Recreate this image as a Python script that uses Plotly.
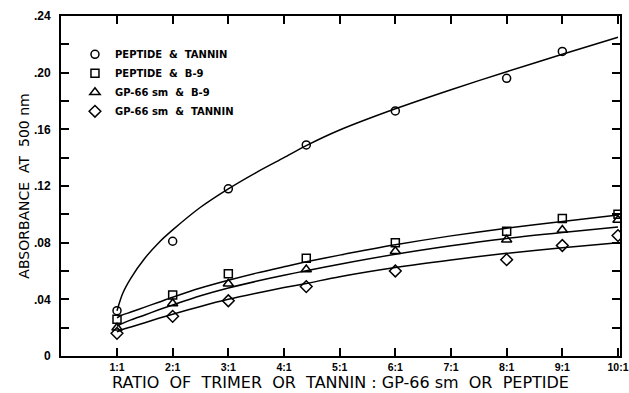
import plotly.graph_objects as go

# measured points
x_pts = [1, 2, 3, 4.4, 6, 8, 9, 10]
pep_tannin = [0.032, 0.081, 0.118, 0.149, 0.173, 0.196, 0.215, None]
pep_b9 = [0.026, 0.043, 0.058, 0.069, 0.080, 0.088, 0.097, 0.100]
gp_b9 = [0.020, 0.037, 0.051, 0.061, 0.074, 0.082, 0.089, 0.096]
gp_tannin = [0.016, 0.028, 0.039, 0.049, 0.060, 0.068, 0.078, 0.085]

# fitted curves
x_fit = [1, 1.1, 1.25, 1.5, 1.75, 2, 2.5, 3, 3.5, 4, 4.4, 5, 6, 7, 8, 9, 10]
fit_pep_tannin = [0.032, 0.044, 0.055, 0.069, 0.080, 0.089, 0.105, 0.118, 0.1295, 0.140,
                  0.1485, 0.1595, 0.1745, 0.188, 0.2007, 0.213, 0.225]
fit_pep_b9 = [0.027, 0.029, 0.031, 0.0345, 0.038, 0.0415, 0.048, 0.0535, 0.0585, 0.063,
              0.0665, 0.0712, 0.0785, 0.0848, 0.0902, 0.095, 0.0995]
fit_gp_b9 = [0.021, 0.023, 0.0255, 0.029, 0.0326, 0.036, 0.0425, 0.048, 0.0527, 0.057,
             0.0602, 0.0648, 0.0718, 0.0778, 0.083, 0.0872, 0.091]
fit_gp_tannin = [0.017, 0.0187, 0.0205, 0.0235, 0.0266, 0.0295, 0.035, 0.040, 0.0443, 0.0483,
                 0.0512, 0.056, 0.0625, 0.0678, 0.0725, 0.0765, 0.080]

x_tickvals = [1, 2, 3, 4, 5, 6, 7, 8, 9, 10]
x_ticktext = ["1:1", "2:1", "3:1", "4:1", "5:1", "6:1", "7:1", "8:1", "9:1", "10:1"]
y_tickvals = [0, 0.04, 0.08, 0.12, 0.16, 0.20, 0.24]
y_ticktext = ["0", ".04", ".08", ".12", ".16", ".20", ".24"]

names = ["PEPTIDE  &  TANNIN", "PEPTIDE  &  B-9", "GP-66 sm  &  B-9", "GP-66 sm  &  TANNIN"]
symbols = ["circle-open", "square-open", "triangle-up-open", "diamond-open"]
sizes = [8, 8, 9, 9]

fig = go.Figure()
for fy in [fit_pep_tannin, fit_pep_b9, fit_gp_b9, fit_gp_tannin]:
    fig.add_trace(go.Scatter(x=x_fit, y=fy, mode="lines", line=dict(color="black", width=1.5, shape="spline", smoothing=0.8),
                             showlegend=False, hoverinfo="skip"))
for yv, nm, sym, sz in zip([pep_tannin, pep_b9, gp_b9, gp_tannin], names, symbols, sizes):
    fig.add_trace(go.Scatter(x=x_pts, y=yv, mode="markers", name=nm,
                             marker=dict(symbol=sym, size=sz, color="black", line=dict(color="black", width=1.5))))

font = "DejaVu Sans"
tickfont = dict(family="Liberation Sans", size=10.5, weight="bold")
fig.update_layout(
    width=629, height=393,
    margin=dict(l=61, r=9, t=16, b=37),
    paper_bgcolor="white", plot_bgcolor="white",
    font=dict(family=font, color="black", size=12),
    legend=dict(x=0.025, y=0.93, xanchor="left", yanchor="top", bgcolor="rgba(0,0,0,0)",
                font=dict(size=10, family=font, weight="bold"), tracegroupgap=0),
    xaxis=dict(range=[-0.006, 10.036], tickvals=x_tickvals, ticktext=x_ticktext,
               ticks="inside", ticklen=8, tickwidth=1.5, tickcolor="black",
               showline=True, linecolor="black", linewidth=2, mirror="ticks",
               showgrid=False, zeroline=False, automargin=False, ticklabeloverflow="allow",
               tickfont=tickfont,
               title=dict(text="RATIO  OF  TRIMER  OR  TANNIN : GP-66 sm  OR  PEPTIDE", font=dict(size=16), standoff=5)),
    yaxis=dict(range=[0, 0.24], tickvals=y_tickvals, ticktext=y_ticktext,
               ticks="inside", ticklen=8, tickwidth=1.5, tickcolor="black",
               minor=dict(dtick=0.02, ticks="inside", ticklen=8, tickwidth=1.5, tickcolor="black", showgrid=False),
               showline=True, linecolor="black", linewidth=2, mirror="ticks",
               showgrid=False, zeroline=False, automargin=False, ticklabelstandoff=6,
               tickfont=dict(family="Liberation Sans", size=12, weight="bold"),
               title=dict(text="ABSORBANCE  AT  500 nm", font=dict(size=14), standoff=1)),
)

fig.write_html("out.html", config={"displayModeBar": False},
               post_script="document.body.style.margin='0';document.body.style.overflow='hidden';")
